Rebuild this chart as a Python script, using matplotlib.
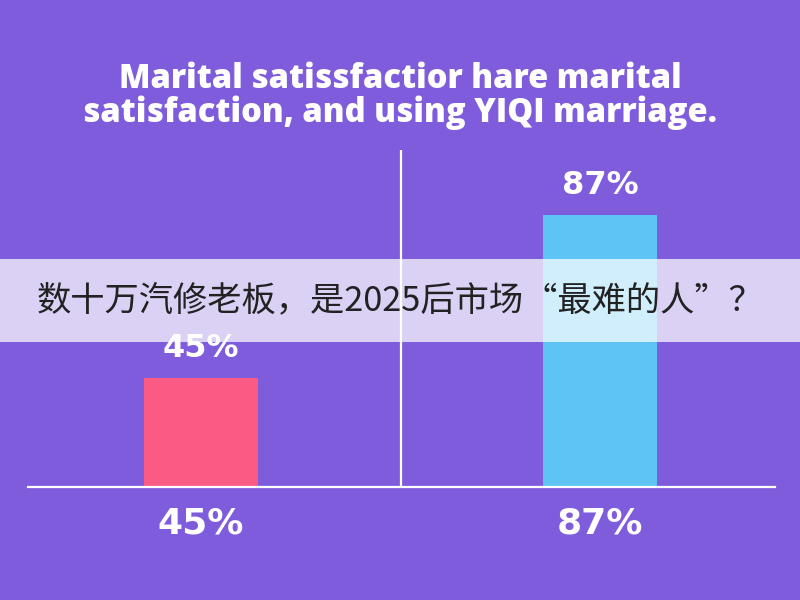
import matplotlib
matplotlib.use('Agg')
import matplotlib.pyplot as plt
from matplotlib.patches import Rectangle

# values
groups = ['without', 'with']
shares = [45, 87]
share_labels = ['45%', '87%']
bar_colors = ['#F95B85', '#5EC4F5']
title = 'Marital satissfactior hare marital\nsatisfaction, and using YIQI marriage.'
banner = '数十万汽修老板，是2025后市场“最难的人”？'

bg = '#7E5CDC'

fig = plt.figure(figsize=(8, 6), dpi=100, facecolor=bg)
# axes placed so the baseline sits at y=487px and spans x 28..775px
ax = fig.add_axes([28 / 800, 113 / 600, 747 / 800, 337 / 600])
ax.set_facecolor(bg)

x = list(range(len(groups)))
bars = ax.bar(x, shares, width=0.285, color=bar_colors, zorder=2)

# truncated value axis, as in the original picture
ax.set_ylim(17, 103.6)
ax.set_xlim(-0.434, 1.439)

for rect, lab in zip(bars, share_labels):
    ax.annotate(lab, (rect.get_x() + rect.get_width() / 2, rect.get_height()),
                xytext=(0, 15), textcoords='offset points', ha='center', va='baseline',
                color='white', fontsize=23, fontweight='bold', family='DejaVu Sans')

ax.axvline(0.5, color='white', lw=1.6, zorder=3)

ax.set_xticks(x)
ax.set_xticklabels(share_labels, color='white', fontsize=26, fontweight='bold', family='DejaVu Sans')
ax.tick_params(axis='x', length=0, pad=14)
ax.set_yticks([])
for side in ['top', 'left', 'right']:
    ax.spines[side].set_visible(False)
ax.spines['bottom'].set_color('white')
ax.spines['bottom'].set_linewidth(1.6)

fig.text(0.5, 1 - 96 / 600, title, ha='center', va='center', color='white',
         fontsize=23.5, fontweight='heavy', family='Open Sans', linespacing=1.0)

# translucent caption band across the middle
fig.patches.append(Rectangle((0, 1 - 342 / 600), 1, 83 / 600, transform=fig.transFigure,
                             facecolor='white', alpha=0.72, edgecolor='none', zorder=5))
fig.text(37 / 800, 1 - 301 / 600, banner, ha='left', va='center', color='#222222',
         fontsize=24.7, family=['Noto Sans CJK SC', 'DejaVu Sans'], zorder=6)

fig.savefig('out.png', dpi=100, facecolor=bg)
